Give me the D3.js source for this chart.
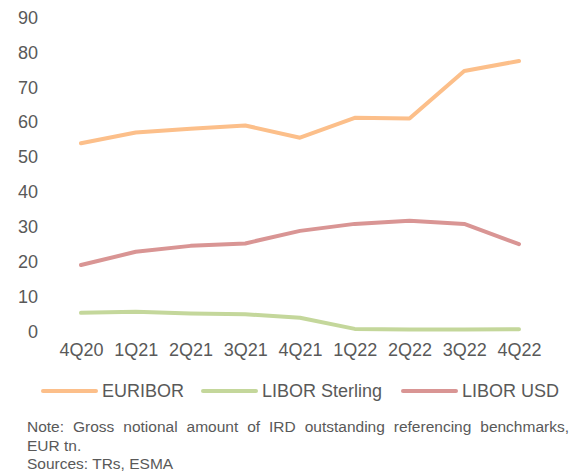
<!DOCTYPE html>
<html><head><meta charset="utf-8">
<script src="https://cdn.jsdelivr.net/npm/d3@7"></script>
<style>html,body{margin:0;padding:0;background:#fff;}svg{display:block;}</style>
</head><body>
<svg id="chart" width="574" height="476"></svg>
<script>
const categories = ["4Q20","1Q21","2Q21","3Q21","4Q21","1Q22","2Q22","3Q22","4Q22"];
const euribor = [53.8, 56.9, 58.0, 58.9, 55.4, 61.1, 60.9, 74.5, 77.4];
const liborSterling = [5.2, 5.5, 5.0, 4.8, 3.8, 0.6, 0.4, 0.4, 0.5];
const liborUSD = [18.9, 22.7, 24.4, 25.1, 28.7, 30.7, 31.6, 30.7, 24.9];
const seriesNames = ["EURIBOR", "LIBOR Sterling", "LIBOR USD"];
const yTicks = [0,10,20,30,40,50,60,70,80,90];
const noteLines = ["Note: Gross notional amount of IRD outstanding referencing benchmarks,", "EUR tn.", "Sources: TRs, ESMA"];

const colors = ["#FCBF8A", "#C4D79B", "#D99594"];
const seriesData = [euribor, liborSterling, liborUSD];
const textColor = "#595959";
const font = "'Liberation Sans', Arial, sans-serif";

const svg = d3.select("#chart");
const x = d3.scalePoint().domain(categories).range([81, 519]);
const y = d3.scaleLinear().domain([0, 90]).range([331, 17]);

// y axis labels
const yAxis = svg.append("g").attr("transform", "translate(38,0)")
  .call(d3.axisLeft(y).tickValues(yTicks).tickSize(0).tickPadding(0));
yAxis.select(".domain").remove();
yAxis.selectAll("text").attr("fill", textColor).attr("font-size", 18).attr("font-family", font)
  .attr("dy", "0.35em");

// x axis labels
const xAxis = svg.append("g").attr("transform", "translate(0,343)")
  .call(d3.axisBottom(x).tickSize(0).tickPadding(0));
xAxis.select(".domain").remove();
xAxis.selectAll("text").attr("fill", textColor).attr("font-size", 18).attr("font-family", font)
  .attr("dy", "0.71em");

// lines
const line = d3.line().x((d,i) => x(categories[i])).y(d => y(d));
seriesData.forEach((s, k) => {
  svg.append("path").datum(s).attr("d", line).attr("fill", "none")
    .attr("stroke", colors[k]).attr("stroke-width", 4)
    .attr("stroke-linejoin", "round").attr("stroke-linecap", "round");
});

// legend
const legendX = [43, 203, 403];
const legendY = 391;
seriesNames.forEach((name, k) => {
  const g = svg.append("g").attr("transform", `translate(${legendX[k]},${legendY})`);
  g.append("line").attr("x1", 0).attr("x2", 53).attr("y1", 0).attr("y2", 0)
    .attr("stroke", colors[k]).attr("stroke-width", 4).attr("stroke-linecap", "round");
  g.append("text").attr("x", 59).attr("y", 0).attr("dy", "0.35em")
    .attr("fill", textColor).attr("font-size", 18).attr("font-family", font).text(name);
});

// notes
const noteG = svg.append("g");
noteLines.forEach((t, i) => {
  const txt = noteG.append("text").attr("x", 27).attr("y", 427 + i * 18.5).attr("dy", "0.35em")
    .attr("fill", textColor).attr("font-size", 15.5).attr("font-family", font).text(t);
  if (i === 0) {
    const natural = txt.node().getComputedTextLength();
    const nSpaces = t.split(" ").length - 1;
    const ws = (542 - natural) / nSpaces;
    txt.attr("word-spacing", ws);
  }
});
</script>
</body></html>
